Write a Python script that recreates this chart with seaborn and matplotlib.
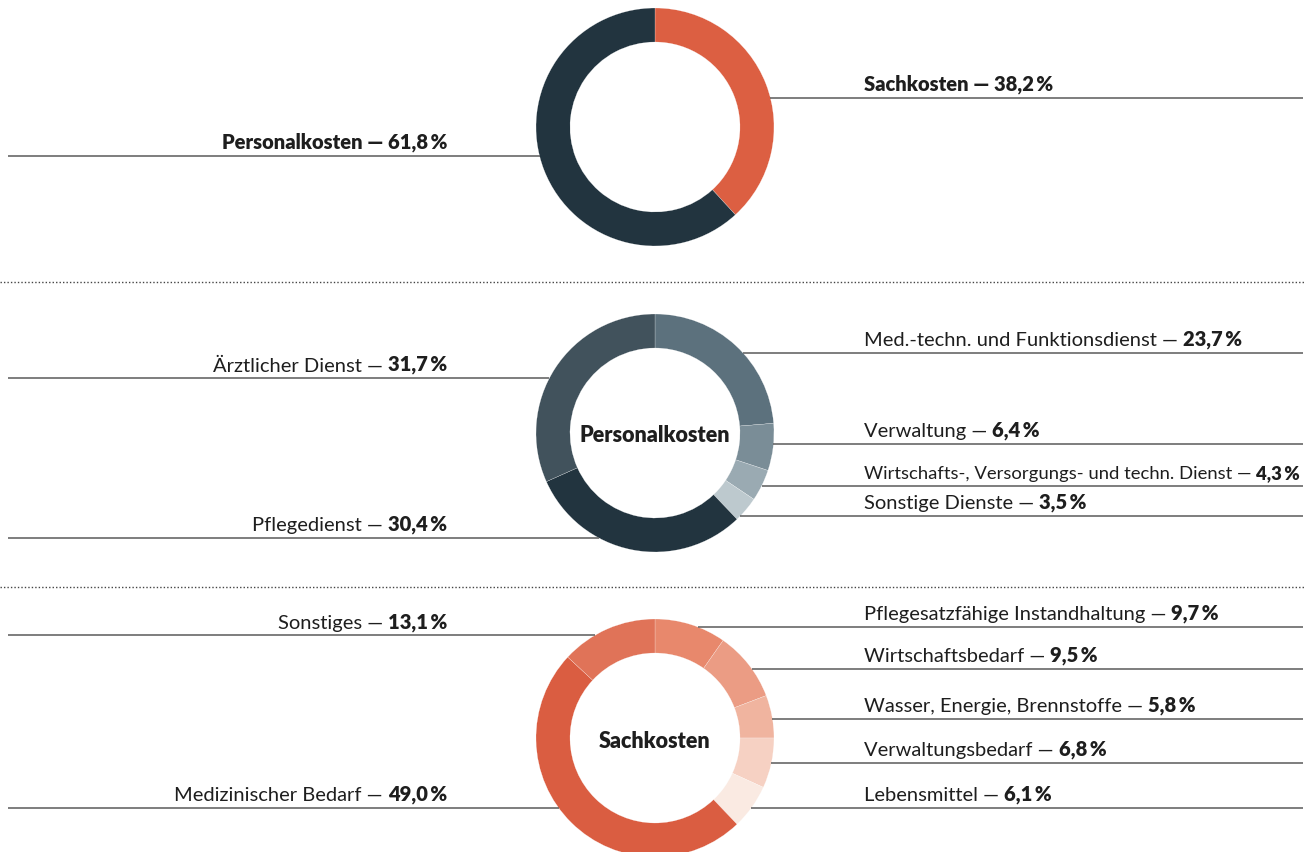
import numpy as np
import matplotlib
matplotlib.use("Agg")
import matplotlib.pyplot as plt
import seaborn as sns

# top donut: Gesamtkosten
total_labels = ['Sachkosten', 'Personalkosten']
total_values = [38.2, 61.8]
total_colors = ['#dc5f42', '#22343f']

# middle donut: Personalkosten
personal_labels = ['Med.-techn. und Funktionsdienst', 'Verwaltung',
                   'Wirtschafts-, Versorgungs- und techn. Dienst', 'Sonstige Dienste',
                   'Pflegedienst', 'Ärztlicher Dienst']
personal_values = [23.7, 6.4, 4.3, 3.5, 30.4, 31.7]
personal_colors = ['#5c717d', '#7a8d97', '#9aaab2', '#bdc9ce', '#22343f', '#41525c']

# bottom donut: Sachkosten
sach_labels = ['Pflegesatzfähige Instandhaltung', 'Wirtschaftsbedarf',
               'Wasser, Energie, Brennstoffe', 'Verwaltungsbedarf', 'Lebensmittel',
               'Medizinischer Bedarf', 'Sonstiges']
sach_values = [9.7, 9.5, 5.8, 6.8, 6.1, 49.0, 13.1]
sach_colors = ['#e8886c', '#eb9c84', '#f0b49f', '#f6d1c3', '#faeae2', '#da5d41', '#e07358']

sns.set_theme(style='white')
plt.rcParams['font.family'] = ['Lato', 'DejaVu Sans']
plt.rcParams['text.color'] = '#1e1e1e'

W, H = 1314, 853
fig = plt.figure(figsize=(W / 100, H / 100), dpi=100)
ax = fig.add_axes([0, 0, 1, 1])

CX, R, RING = 655, 119, 34
FS = 14.5
BOLD = 'heavy'
LINE_C = '#5a5a5a'


def pct(v):
    return f'{v:.1f}'.replace('.', ',') + '\u2009%'


def donut(values, colors, cy):
    ax.pie(values, colors=colors, startangle=90, counterclock=False,
           radius=R, center=(CX, H - cy),
           wedgeprops=dict(width=RING, edgecolor='white', linewidth=0.15))


def leader(side, y, cy):
    dy = y - cy
    dx = np.sqrt(max(R ** 2 - dy ** 2, 0))
    if side == 'left':
        ax.plot([8, CX - dx], [H - y, H - y], color=LINE_C, lw=1.1, solid_capstyle='butt')
    else:
        ax.plot([CX + dx, 1303], [H - y, H - y], color=LINE_C, lw=1.1, solid_capstyle='butt')


def label(side, text, value, y, cy, all_bold=False):
    leader(side, y, cy)
    ty = H - y + 8
    # the longest label is set a little tighter so it stays inside the frame
    fs = 13.3 if len(text) > 40 else FS
    if all_bold:
        ha = 'right' if side == 'left' else 'left'
        x = 447 if side == 'left' else 864
        ax.text(x, ty, f'{text} \u2014 {pct(value)}', ha=ha, va='baseline',
                fontsize=fs, fontweight=BOLD)
        return
    if side == 'right':
        t = ax.text(864, ty, f'{text} \u2014 ', ha='left', va='baseline', fontsize=fs)
        ax.annotate(pct(value), xy=(1, 0), xycoords=t, ha='left', va='bottom',
                    fontsize=fs, fontweight=BOLD)
    else:
        b = ax.text(447, ty, pct(value), ha='right', va='baseline',
                    fontsize=fs, fontweight=BOLD)
        ax.annotate(f'{text} \u2014 ', xy=(0, 0), xycoords=b, ha='right', va='bottom',
                    fontsize=fs)


# top
cy1 = 128
donut(total_values, total_colors, cy1)
label('right', total_labels[0], total_values[0], 99, cy1, all_bold=True)
label('left', total_labels[1], total_values[1], 157, cy1, all_bold=True)

# middle
cy2 = 434
donut(personal_values, personal_colors, cy2)
ax.text(CX, H - cy2 - 2, 'Personalkosten', ha='center', va='center', fontsize=15.5, fontweight=BOLD)
personal_y = [354, 445, 487, 517, 539, 379]
personal_side = ['right', 'right', 'right', 'right', 'left', 'left']
for lab, val, y, s in zip(personal_labels, personal_values, personal_y, personal_side):
    label(s, lab, val, y, cy2)

# bottom
cy3 = 739
donut(sach_values, sach_colors, cy3)
ax.text(CX, H - cy3 - 3, 'Sachkosten', ha='center', va='center', fontsize=15.5, fontweight=BOLD)
sach_y = [628, 670, 720, 764, 809, 809, 636]
sach_side = ['right', 'right', 'right', 'right', 'right', 'left', 'left']
for lab, val, y, s in zip(sach_labels, sach_values, sach_y, sach_side):
    label(s, lab, val, y, cy3)

# dotted separators
for y in [283, 588]:
    ax.plot([0, 1304], [H - y, H - y], color='#444444', lw=1, linestyle=(0, (1, 1.5)))

ax.set_xlim(0, W)
ax.set_ylim(0, H)
ax.set_aspect('equal')
ax.axis('off')

fig.savefig('out.png', dpi=100, facecolor='white')
